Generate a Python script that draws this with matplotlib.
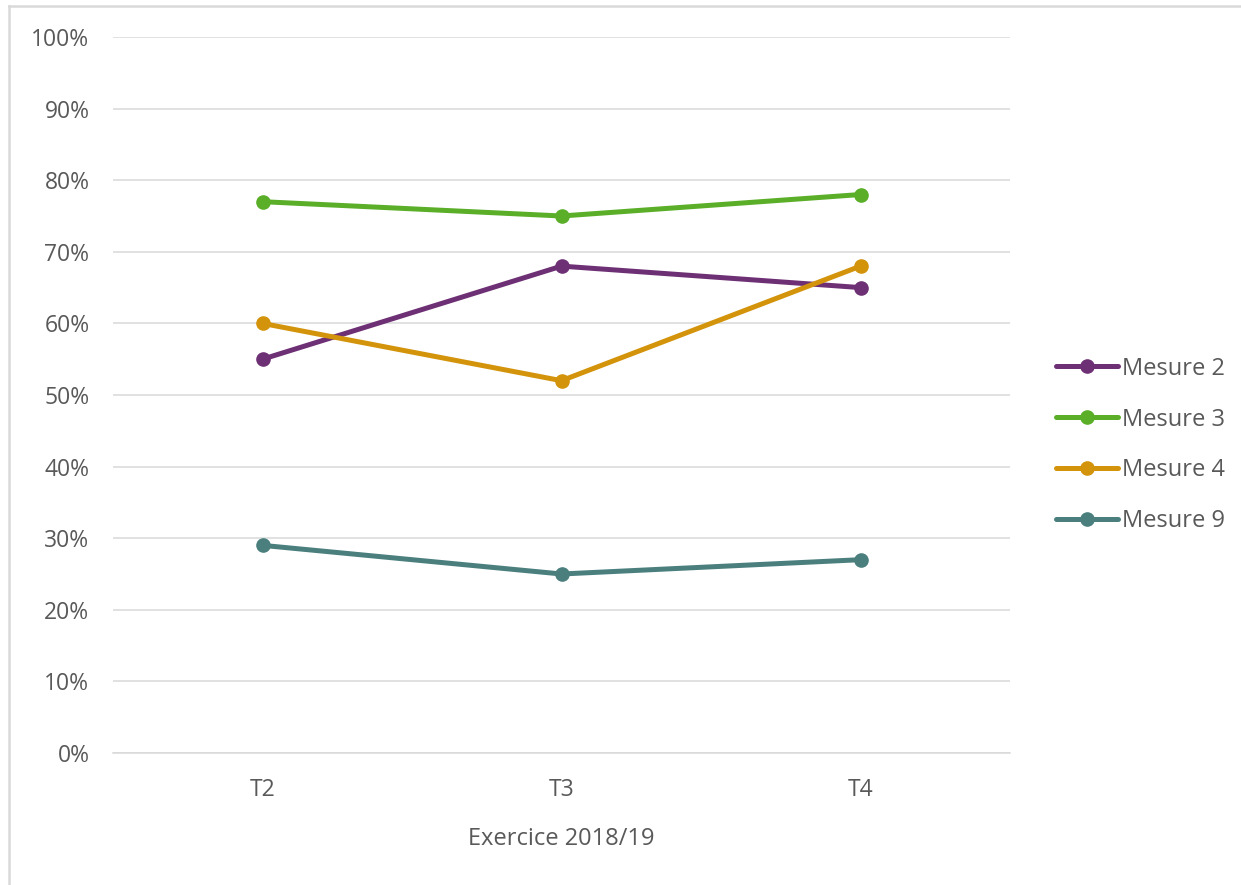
import matplotlib
matplotlib.use("Agg")
import matplotlib.pyplot as plt
from matplotlib.lines import Line2D
from matplotlib.ticker import FuncFormatter

categories = ["T2", "T3", "T4"]
series_names = ["Mesure 2", "Mesure 3", "Mesure 4", "Mesure 9"]
mesure2 = [0.55, 0.68, 0.65]
mesure3 = [0.77, 0.75, 0.78]
mesure4 = [0.60, 0.52, 0.68]
mesure9 = [0.29, 0.25, 0.27]
colors = ["#6E3074", "#5AAE28", "#D3930A", "#4A7F7E"]
xlabel = "Exercice 2018/19"

plt.rcParams['font.family'] = ['Open Sans', 'DejaVu Sans']

W, H = 1241, 885
fig = plt.figure(figsize=(W/100, H/100), dpi=100)
# chart border (only top and left visible in reference)
fig.add_artist(Line2D([9/W, 9/W], [0, 1-6/H], transform=fig.transFigure, color="#D9D9D9", linewidth=1.8))
fig.add_artist(Line2D([9/W, 1], [1-6/H, 1-6/H], transform=fig.transFigure, color="#D9D9D9", linewidth=1.8))

ax = fig.add_axes([113/W, 1-753/H, (1010-113)/W, (753-37)/H])

x = list(range(len(categories)))
for name, vals, c in zip(series_names, [mesure2, mesure3, mesure4, mesure9], colors):
    ax.plot(x, vals, color=c, linewidth=3.6, marker="o", markersize=9.5, label=name,
            solid_capstyle="round", zorder=3)

ax.set_xlim(-0.5, 2.5)
ax.set_ylim(0, 1.0)
ax.set_yticks([i/10 for i in range(11)])
ax.yaxis.set_major_formatter(FuncFormatter(lambda v, p: f"{round(v*100)}%"))
ax.set_xticks(x)
ax.set_xticklabels(categories)
ax.grid(axis="y", color="#D9D9D9", linewidth=1.1)
ax.set_axisbelow(True)
for s in ["top", "right", "left"]:
    ax.spines[s].set_visible(False)
ax.spines["bottom"].set_color("#D9D9D9")
ax.spines["bottom"].set_linewidth(1.1)
ax.tick_params(axis="both", length=0, labelsize=16.5, labelcolor="#595959")
ax.tick_params(axis="y", pad=17)
ax.tick_params(axis="x", pad=18)
ax.set_xlabel(xlabel, fontsize=17, color="#595959", labelpad=18)

leg = fig.legend(loc="center left", bbox_to_anchor=(1035/W, 1-445/H), frameon=False,
                 fontsize=17, labelcolor="#595959", handlelength=2.6, handletextpad=0.2,
                 labelspacing=1.14)

fig.savefig("out.png", dpi=100, facecolor="white")
